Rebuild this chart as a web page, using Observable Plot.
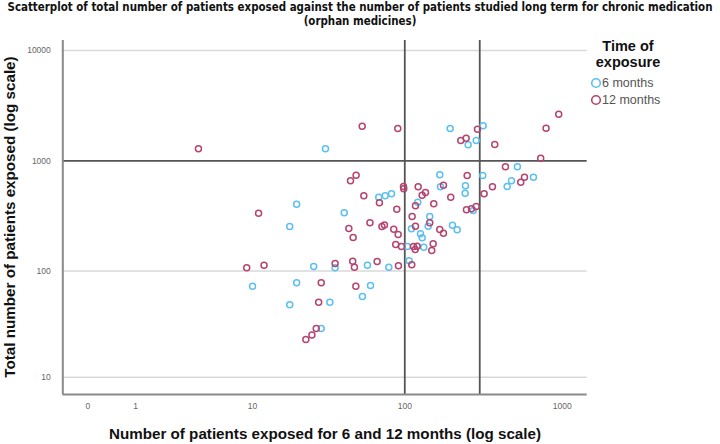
<!DOCTYPE html>
<html><head><meta charset="utf-8">
<script src="https://cdn.jsdelivr.net/npm/d3@7"></script>
<script src="https://cdn.jsdelivr.net/npm/@observablehq/plot@0.6"></script>
<style>
body{margin:0;background:#fff;}
#wrap{position:relative;width:720px;height:444px;overflow:hidden;font-family:"Liberation Sans",Arial,sans-serif;}
.c{position:absolute;white-space:nowrap;transform:translate(-50%,-50%);line-height:1;}
.ttl{font-family:"Liberation Sans Narrow","Arial Narrow","DejaVu Sans Condensed",sans-serif;font-stretch:condensed;font-weight:bold;font-size:13px;color:#111;}
.ax{font-weight:bold;font-size:14px;color:#111;}
.lg{font-weight:bold;font-size:14.5px;color:#111;}
.li{position:absolute;white-space:nowrap;font-size:12.5px;color:#555;line-height:1;transform:translateY(-50%);}
</style></head><body>
<div id="wrap">
  <div id="chart" style="position:absolute;left:0;top:0"></div>
  <div class="c ttl" id="t1" style="left:360px;top:8px">Scatterplot of total number of patients exposed against the number of patients studied long term for chronic medication</div>
  <div class="c ttl" id="t2" style="left:360px;top:22px">(orphan medicines)</div>
  <div class="c ax" id="xl" style="left:325px;top:434px">Number of patients exposed for 6 and 12 months (log scale)</div>
  <div class="c ax" id="yl" style="left:10px;top:217px;transform:translate(-50%,-50%) rotate(-90deg)">Total number of patients exposed (log scale)</div>
  <div class="c lg" style="left:628px;top:46px">Time of</div>
  <div class="c lg" style="left:628px;top:62px">exposure</div>
  <svg style="position:absolute;left:0;top:0" width="720" height="444">
    <circle cx="596" cy="83" r="4.3" fill="none" stroke="#5bc0f0" stroke-width="1.6"></circle>
    <circle cx="596" cy="100" r="4.3" fill="none" stroke="#b5446f" stroke-width="1.6"></circle>
  </svg>
  <div class="li" style="left:602px;top:83px">6 months</div>
  <div class="li" style="left:602px;top:100px">12 months</div>
</div>
<script>
// Ticks and reference values
const xTicks = [0, 1, 10, 100, 1000];
const yTicks = [10, 100, 1000, 10000];
const yGrid = [10, 100, 10000];
const refX = [100, 300];
const refY = [1000];
const xDomain = [-0.443, 1439];
const yDomain = [6.674, 12320];
const groups = ["6 months", "12 months"];
const groupColors = ["#5bc0f0", "#b5446f"];

// 6 months series: x = patients exposed long term, y = total exposed
const sixX = [30.8,68.1,19.9,40.8,17.9,25.8,35.6,57.6,10.0,19.9,60.3,53.5,17.9,32.9,28.9,194.6,315.3,284.7,253.3,520,657,476.7,447.6,313.5,243.4,242.3,167.1,168.8,74.9,82.2,121,144.3,272.5,141,110.3,201.3,215.6,125.9,129.1,104,132.2,79,106.6];
const sixY = [1286,468.6,404.7,338,254,109.7,106.7,112.7,72.4,77.8,73.5,58.2,48.8,51.6,29.4,1965,2079,1529,1398,884,711.5,660,586,737,594.7,509.4,748,582.4,482.5,503,422,312.9,354.8,255.4,241.9,260.9,236.9,217.9,200.4,166.9,164.5,108.1,123.6];

// 12 months series
const twelveX = [53.3,4.0,48.7,44.8,54.6,68.8,11.0,43.7,59.8,71.4,74.1,46.6,9.1,12.0,35.6,46.3,47.5,66.5,28.9,48.5,27.8,26.8,25.1,22.9,950,790,90.2,290.2,245.9,227.3,373.5,730.3,436.6,576.4,546,361.2,319.9,249.6,176.4,196.3,98.1,98.5,121.7,135.5,129.1,117,153,88.9,111.4,284.7,265.8,247,144.3,117,85,90.7,167.1,176.4,87.5,95.2,113.6,119.9,116.5,151.7,148.6,91.1,110.8];
const twelveY = [2062,1286,741.7,660,482.5,416.8,335.3,243.5,274.3,254,262,201.6,106.7,112.7,116.8,122.6,108.1,121.9,77.8,72.4,51.6,29.4,25.6,23.2,2648,1978,1965,1937,1605,1529,1407,1057,884,711.5,641,582.4,503,737,601.4,468.6,586,558,582.4,517,488.6,391.4,408.2,364.5,312.9,385.7,367.6,360,274.3,255.4,239.9,214.7,238.4,220.6,174.1,166.9,166.9,168,156.8,176.7,153.5,111.3,113.7];

const data = [
  ...sixX.map((x, i) => ({x, y: sixY[i], g: groups[0]})),
  ...twelveX.map((x, i) => ({x, y: twelveY[i], g: groups[1]}))
];

const chart = Plot.plot({
  width: 720,
  height: 444,
  marginLeft: 62.3,
  marginRight: 133.3,
  marginTop: 40,
  marginBottom: 50,
  style: {fontFamily: "'Liberation Sans', Arial, sans-serif", fontSize: "8.5px", color: "#666", background: "transparent"},
  x: {type: "symlog", constant: 1, domain: xDomain, ticks: xTicks, tickFormat: d => String(d), tickSize: 0, tickPadding: 8, label: null},
  y: {type: "symlog", constant: 1, domain: yDomain, ticks: yTicks, tickFormat: d => String(d), tickSize: 0, tickPadding: 12, label: null},
  color: {domain: groups, range: groupColors},
  marks: [
    Plot.ruleY(yGrid, {stroke: "#d9d9d9", strokeWidth: 1.5}),
    Plot.ruleY(refY, {stroke: "#555", strokeWidth: 1.8}),
    Plot.ruleX(refX, {stroke: "#555", strokeWidth: 1.8}),
    Plot.ruleX([xDomain[0]], {stroke: "#8a8a8a", strokeWidth: 2}),
    Plot.ruleY([yDomain[0]], {stroke: "#8a8a8a", strokeWidth: 2}),
    Plot.dot(data, {x: "x", y: "y", stroke: "g", r: 3, strokeWidth: 1.5, fill: "none"})
  ]
});
document.getElementById("chart").appendChild(chart);

// fit text widths
function fit(id, w) {
  const el = document.getElementById(id);
  const fs = parseFloat(getComputedStyle(el).fontSize);
  const cur = el.offsetWidth;
  const nf = fs * w / cur;
  el.style.fontSize = nf + "px";
  return nf;
}
const tf = fit("t1", 705);
document.getElementById("t2").style.fontSize = tf + "px";
const af = fit("xl", 432);
document.getElementById("yl").style.fontSize = af + "px";
</script>
</body></html>
